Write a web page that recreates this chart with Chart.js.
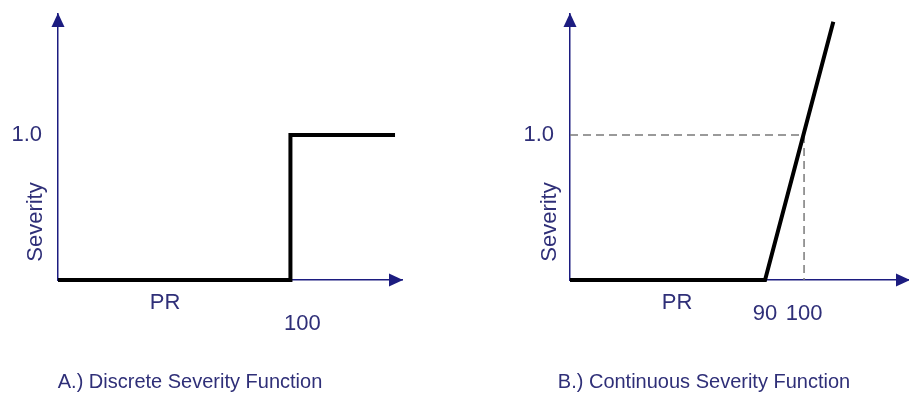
<!DOCTYPE html>
<html>
<head>
<meta charset="utf-8">
<script src="https://cdn.jsdelivr.net/npm/chart.js@4.4.0/dist/chart.umd.min.js"></script>
<style>
  html, body { margin: 0; padding: 0; background: #fff; }
  .wrap { display: flex; width: 909px; height: 395px; }
  .box { position: relative; height: 395px; }
</style>
</head>
<body>
<div class="wrap">
  <div class="box" style="width:455px"><canvas id="chartA"></canvas></div>
  <div class="box" style="width:454px"><canvas id="chartB"></canvas></div>
</div>
<script>
// panel A: discrete step
const stepX = [0, 100, 100, 145];
const stepY = [0, 0, 1, 1];
const ticksXA = [100];

// panel B: continuous ramp
const rampX = [40, 90, 107.5];
const rampY = [0, 0, 1.78];
const guideX = [40, 100, 100];
const guideY = [1, 1, 0];
const ticksXB = [90, 100];

const ticksY = [1.0];
const yTickLabels = ['1.0'];

const NAVY = '#1c1c80';
const TEXT = '#2f2f78';
const FONT = "'Liberation Sans', Arial, sans-serif";

function pts(xs, ys) {
  return xs.map((x, i) => ({ x: x, y: ys[i] }));
}

const sketchPlugin = {
  id: 'sketch',
  afterDraw(chart, args, opts) {
    const ctx = chart.ctx;
    const a = chart.chartArea;
    ctx.save();
    // arrow heads
    ctx.fillStyle = NAVY;
    ctx.beginPath();
    ctx.moveTo(a.left, a.top - 1);
    ctx.lineTo(a.left - 6.5, a.top + 13);
    ctx.lineTo(a.left + 6.5, a.top + 13);
    ctx.closePath();
    ctx.fill();
    ctx.beginPath();
    ctx.moveTo(a.right + 1, a.bottom);
    ctx.lineTo(a.right - 13, a.bottom - 6.5);
    ctx.lineTo(a.right - 13, a.bottom + 6.5);
    ctx.closePath();
    ctx.fill();

    ctx.fillStyle = TEXT;
    ctx.textAlign = 'center';
    ctx.textBaseline = 'middle';
    ctx.font = '22px ' + FONT;
    ctx.fillText('PR', a.left + 107, a.bottom + 23);

    ctx.save();
    ctx.translate(a.left - opts.titleGap, 222);
    ctx.rotate(-Math.PI / 2);
    ctx.fillText('Severity', 0, 0);
    ctx.restore();

    ctx.font = '20px ' + FONT;
    ctx.fillText(opts.caption, a.left + opts.captionShift, 382);
    ctx.restore();
  }
};

function makeChart(id, datasets, xMin, xMax, xTicks, cfg) {
  const ctx = document.getElementById(id).getContext('2d');
  return new Chart(ctx, {
    type: 'line',
    data: { datasets: datasets },
    plugins: [sketchPlugin],
    options: {
      responsive: true,
      maintainAspectRatio: false,
      animation: false,
      layout: { padding: { top: 14, right: cfg.padRight, left: 0, bottom: 0 } },
      plugins: {
        legend: { display: false },
        tooltip: { enabled: false },
        sketch: { caption: cfg.caption, captionShift: cfg.captionShift, titleGap: cfg.titleGap }
      },
      scales: {
        x: {
          type: 'linear',
          min: xMin,
          max: xMax,
          grid: { display: false, drawTicks: false },
          border: { display: true, color: NAVY, width: 1.5 },
          afterBuildTicks: (s) => { s.ticks = xTicks.map(v => ({ value: v })); },
          afterFit: (s) => { s.height = 115; s.paddingLeft = 0; s.paddingRight = 0; },
          ticks: {
            autoSkip: false,
            maxRotation: 0,
            padding: cfg.xPad,
            labelOffset: cfg.xLabelOffset,
            color: TEXT,
            font: { family: FONT, size: 22 },
            callback: (v) => String(v)
          }
        },
        y: {
          type: 'linear',
          min: 0,
          max: 1.834,
          grid: { display: false, drawTicks: false },
          border: { display: true, color: NAVY, width: 1.5 },
          afterBuildTicks: (s) => { s.ticks = ticksY.map(v => ({ value: v })); },
          afterFit: (s) => { s.width = cfg.yWidth; s.paddingTop = 0; s.paddingBottom = 0; },
          ticks: {
            padding: 16,
            color: TEXT,
            font: { family: FONT, size: 22 },
            callback: (v) => yTickLabels[ticksY.indexOf(v)]
          }
        }
      }
    }
  });
}

const lineStyle = {
  borderColor: '#000',
  borderWidth: 4,
  pointRadius: 0,
  tension: 0,
  fill: false,
  clip: false,
  borderJoinStyle: 'miter',
  borderCapStyle: 'butt',
  order: 0
};

makeChart('chartA', [
  Object.assign({ label: 'Severity', data: pts(stepX, stepY) }, lineStyle)
], 0, 148, ticksXA, {
  padRight: 53, yWidth: 58, xPad: 31, xLabelOffset: 12,
  caption: 'A.) Discrete Severity Function', captionShift: 132, titleGap: 22
});

makeChart('chartB', [
  Object.assign({ label: 'Severity', data: pts(rampX, rampY) }, lineStyle),
  {
    label: 'guide',
    data: pts(guideX, guideY),
    borderColor: '#7a7a7a',
    borderWidth: 1.5,
    borderDash: [8, 5],
    pointRadius: 0,
    tension: 0,
    fill: false,
    clip: false,
    order: 1
  }
], 40, 126.9, ticksXB, {
  padRight: 0, yWidth: 115, xPad: 21, xLabelOffset: 0,
  caption: 'B.) Continuous Severity Function', captionShift: 134, titleGap: 20
});
</script>
</body>
</html>
